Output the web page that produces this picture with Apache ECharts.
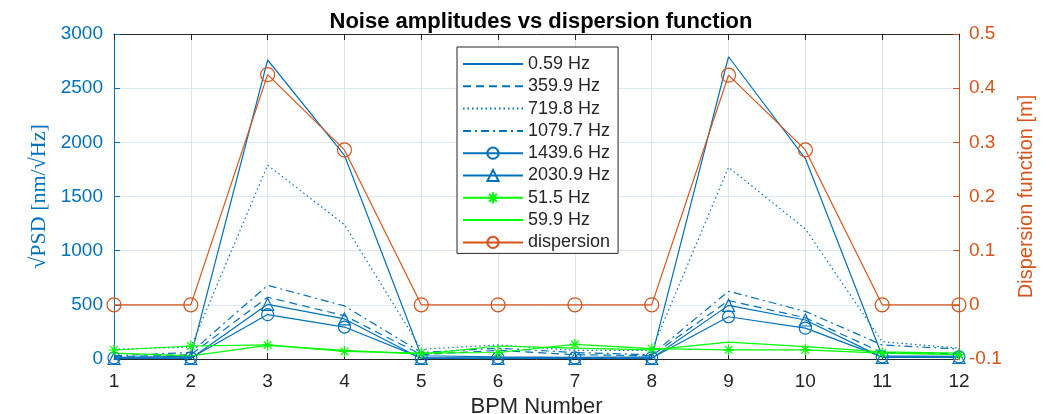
<!DOCTYPE html>
<html>
<head>
<meta charset="utf-8">
<script src="https://cdn.jsdelivr.net/npm/echarts@6/dist/echarts.min.js"></script>
<style>html,body{margin:0;padding:0;background:#fff}#c{width:1053px;height:414px}</style>
</head>
<body>
<div id="c"></div>
<script>
const bpm = [1, 2, 3, 4, 5, 6, 7, 8, 9, 10, 11, 12];
const hz059 = [15, 25, 2760, 1880, 30, 20, 15, 20, 2790, 1850, 30, 25];
const hz3599 = [20, 40, 570, 400, 40, 80, 40, 30, 540, 380, 60, 50];
const hz7198 = [90, 110, 1790, 1240, 90, 130, 80, 80, 1770, 1200, 160, 100];
const hz10797 = [30, 60, 680, 490, 60, 100, 60, 40, 625, 440, 130, 92];
const hz14396 = [10, 10, 410, 295, 10, 10, 10, 10, 390, 285, 20, 20];
const hz20309 = [5, 5, 505, 370, 5, 5, 5, 5, 495, 360, 15, 15];
const hz515 = [83, 120, 130, 70, 55, 60, 135, 95, 85, 85, 55, 40];
const hz599 = [55, 28, 125, 80, 45, 120, 100, 85, 155, 115, 65, 55];
const dispersion = [0, 0, 0.425, 0.286, 0, 0, 0, 0, 0.424, 0.286, 0, 0];
const leftTicks = [0, 3000, 500];
const rightTicks = [-0.1, 0.5, 0.1];

const BLUE = '#0072BD', ORANGE = '#D95319', GREEN = '#00FF00';
const CLEAR = 'rgba(0,0,0,0)';
const pairs = a => bpm.map((x, i) => [x, a[i]]);
const star = 'path://M0,-1L0,1M-1,0L1,0M-0.7,-0.7L0.7,0.7M-0.7,0.7L0.7,-0.7';

function blueLine(name, data, type, symbol, size) {
  const marked = !!symbol;
  return {
    name, type: 'line', data: pairs(data), yAxisIndex: 0,
    symbol: symbol || 'none', symbolSize: size || 0,
    lineStyle: { color: BLUE, width: 1.2, type: type || 'solid' },
    itemStyle: { color: CLEAR, borderColor: marked ? BLUE : CLEAR, borderWidth: marked ? 1.2 : 0 },
    emphasis: { disabled: true }
  };
}

const hidden = { color: CLEAR, borderColor: CLEAR, borderWidth: 0 };
const chart = echarts.init(document.getElementById('c'));
chart.setOption({
  animation: false,
  title: {
    text: 'Noise amplitudes vs dispersion function', left: 536, top: 6, textAlign: 'center',
    textStyle: { fontFamily: 'Liberation Sans', fontSize: 22, fontWeight: 'bold', color: '#000' }
  },
  grid: { left: 114, right: 94, top: 34, bottom: 55, containLabel: false, outerBoundsMode: 'none' },
  legend: {
    orient: 'vertical', left: 457, top: 47,
    padding: [8, 8, 2, 5], itemGap: 4.3, itemWidth: 60, itemHeight: 14,
    backgroundColor: '#fff', borderColor: '#262626', borderWidth: 1, borderRadius: 0,
    textStyle: { fontFamily: 'Liberation Sans', fontSize: 18, lineHeight: 18, color: '#262626' },
    data: [
      { name: '0.59 Hz', itemStyle: hidden },
      { name: '359.9 Hz', itemStyle: hidden },
      { name: '719.8 Hz', itemStyle: hidden },
      { name: '1079.7 Hz', itemStyle: hidden },
      { name: '1439.6 Hz' },
      { name: '2030.9 Hz' },
      { name: '51.5 Hz' },
      { name: '59.9 Hz', itemStyle: hidden },
      { name: 'dispersion' }
    ]
  },
  xAxis: [{
    type: 'value', min: 1, max: 12, interval: 1, position: 'bottom',
    name: 'BPM Number', nameLocation: 'middle', nameGap: 33,
    nameTextStyle: { fontFamily: 'Liberation Sans', fontSize: 22, color: '#262626' },
    axisLine: { show: true, onZero: false, lineStyle: { color: '#262626', width: 1 } },
    axisTick: { show: true, inside: true, length: 6, lineStyle: { color: '#262626' } },
    axisLabel: { fontFamily: 'Liberation Sans', fontSize: 19, color: '#262626', margin: 13 },
    splitLine: { show: true, lineStyle: { color: '#e3e3e3', width: 1 } }
  }, {
    type: 'value', min: 1, max: 12, interval: 1, position: 'top',
    axisLine: { show: true, onZero: false, lineStyle: { color: '#262626', width: 1 } },
    axisTick: { show: true, inside: true, length: 6, lineStyle: { color: '#262626' } },
    axisLabel: { show: false }, splitLine: { show: false }
  }],
  yAxis: [{
    type: 'value', min: leftTicks[0], max: leftTicks[1], interval: leftTicks[2], position: 'left',
    name: '√PSD [nm/√Hz]', nameLocation: 'middle', nameGap: 60, nameRotate: 90,
    nameTextStyle: { fontFamily: 'Liberation Serif', fontSize: 22, color: BLUE },
    axisLine: { show: true, onZero: false, lineStyle: { color: BLUE, width: 1 } },
    axisTick: { show: true, inside: true, length: 6, lineStyle: { color: BLUE } },
    axisLabel: { fontFamily: 'Liberation Sans', fontSize: 19, color: BLUE, margin: 11,
      formatter: v => String(v) },
    splitLine: { show: true, lineStyle: { color: '#d9e8f4', width: 1 } }
  }, {
    type: 'value', min: rightTicks[0], max: rightTicks[1], interval: rightTicks[2], position: 'right',
    name: 'Dispersion function [m]', nameLocation: 'middle', nameGap: 57, nameRotate: 90,
    nameTextStyle: { fontFamily: 'Liberation Sans', fontSize: 20, color: ORANGE },
    axisLine: { show: true, onZero: false, lineStyle: { color: ORANGE, width: 1 } },
    axisTick: { show: true, inside: true, length: 6, lineStyle: { color: ORANGE } },
    axisLabel: { fontFamily: 'Liberation Sans', fontSize: 19, color: ORANGE, margin: 10,
      formatter: v => (Math.round(v * 10) / 10).toString() },
    splitLine: { show: false }
  }],
  series: [
    blueLine('0.59 Hz', hz059, 'solid'),
    blueLine('359.9 Hz', hz3599, [8, 5]),
    blueLine('719.8 Hz', hz7198, [1.5, 3]),
    blueLine('1079.7 Hz', hz10797, [8, 4, 2, 4]),
    blueLine('1439.6 Hz', hz14396, 'solid', 'circle', 12),
    blueLine('2030.9 Hz', hz20309, 'solid', 'triangle', 12),
    {
      name: '51.5 Hz', type: 'line', data: pairs(hz515), yAxisIndex: 0,
      symbol: star, symbolSize: 11,
      lineStyle: { color: GREEN, width: 1.2 },
      itemStyle: { color: GREEN, borderColor: GREEN, borderWidth: 1.2 },
      emphasis: { disabled: true }
    },
    {
      name: '59.9 Hz', type: 'line', data: pairs(hz599), yAxisIndex: 0,
      symbol: 'none', lineStyle: { color: GREEN, width: 1.2 },
      itemStyle: { color: CLEAR, borderColor: CLEAR, borderWidth: 0 }, emphasis: { disabled: true }
    },
    {
      name: 'dispersion', type: 'line', data: pairs(dispersion), yAxisIndex: 1,
      symbol: 'circle', symbolSize: 14,
      lineStyle: { color: ORANGE, width: 1.2 },
      itemStyle: { color: CLEAR, borderColor: ORANGE, borderWidth: 1.2 },
      emphasis: { disabled: true }
    }
  ]
});
</script>
</body>
</html>
